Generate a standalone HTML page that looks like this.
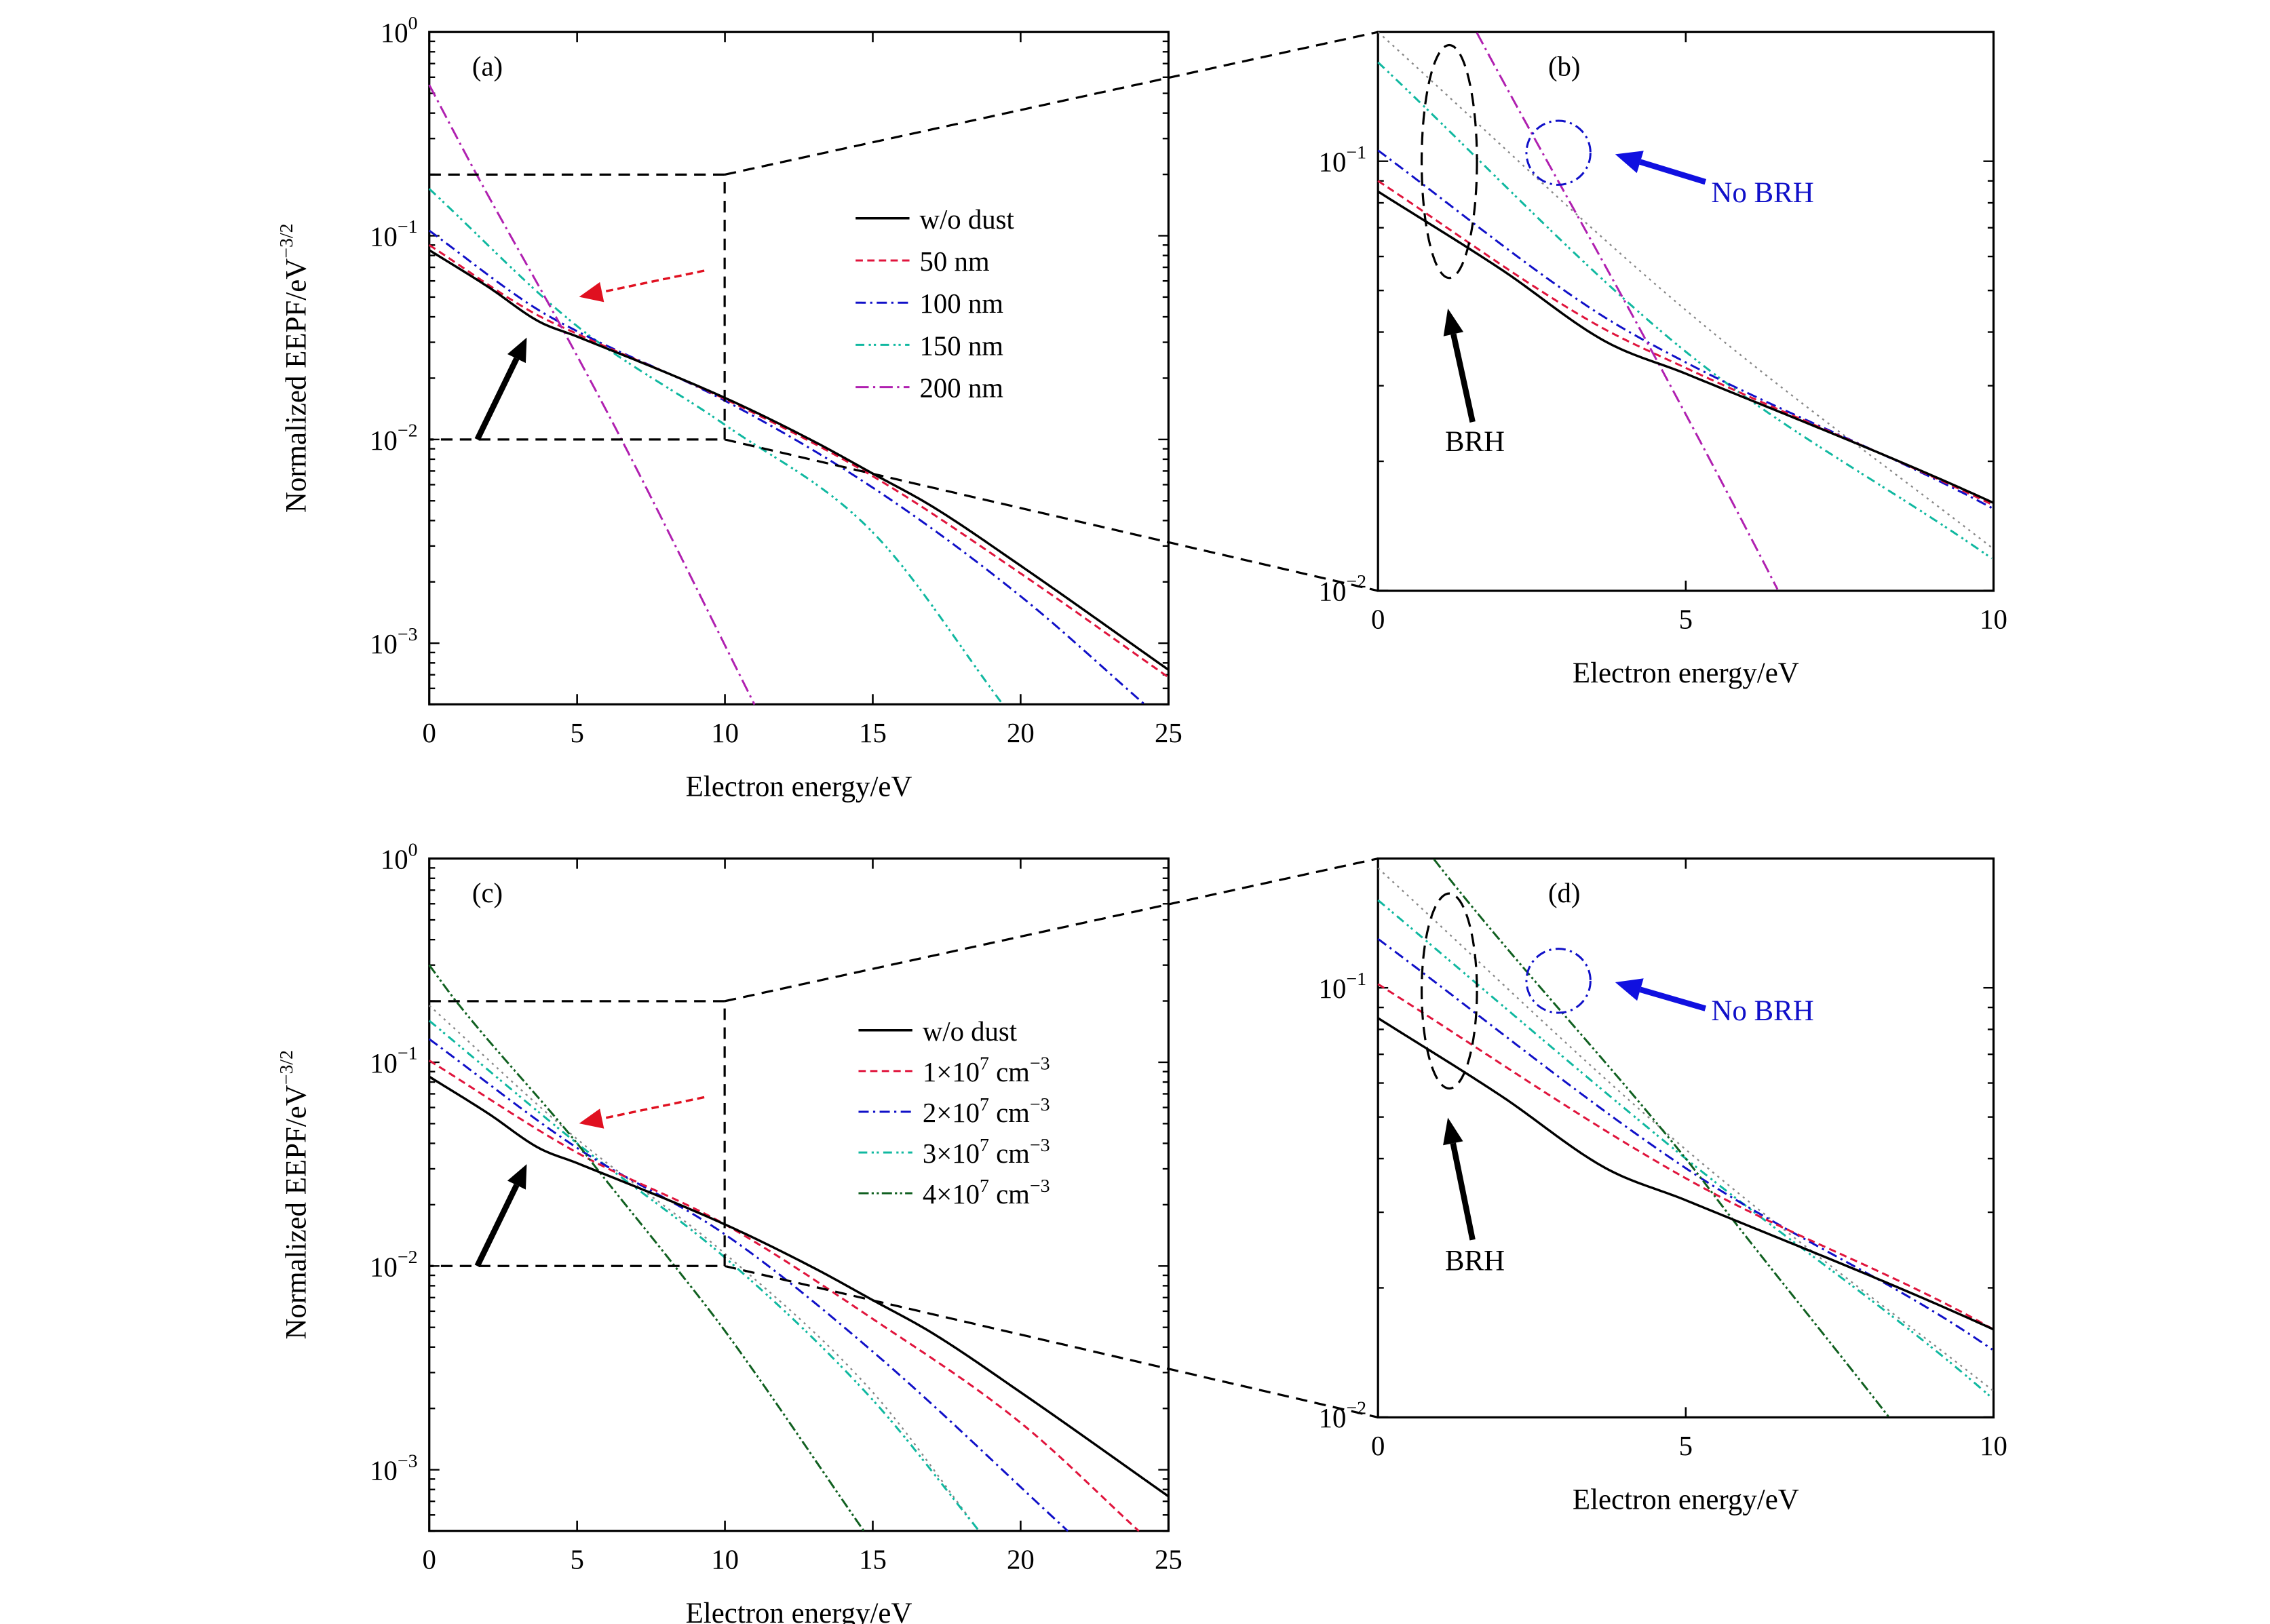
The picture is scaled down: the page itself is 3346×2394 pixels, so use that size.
<!DOCTYPE html>
<html><head><meta charset="utf-8"><style>
html,body{margin:0;padding:0;background:#fff}
svg{display:block}
text{font-family:"Liberation Serif",serif;fill:#000}
</style></head><body>
<svg id="s" xmlns="http://www.w3.org/2000/svg" width="3346" height="2394" viewBox="0 0 1560 1116" preserveAspectRatio="none">
</svg>
<script>
const S=document.getElementById('s');const NS='http://www.w3.org/2000/svg';
function el(t,a,txt){const e=document.createElementNS(NS,t);for(const k in a)e.setAttribute(k,a[k]);if(txt!==undefined)e.textContent=txt;S.appendChild(e);return e;}
function panel(P){
 const X=v=>P.x0+(P.x1-P.x0)*v/P.xmax;
 const Y=v=>P.yT+(P.lt-Math.log10(v))*P.dp;
 return {X,Y};
}
function interp(pts){
 const n=pts.length,x=pts.map(p=>p[0]),y=pts.map(p=>Math.log10(p[1]));
 const d=[],m=[];for(let i=0;i<n-1;i++)d.push((y[i+1]-y[i])/(x[i+1]-x[i]));
 m[0]=d[0];m[n-1]=d[n-2];for(let i=1;i<n-1;i++){m[i]=(d[i-1]*d[i]<=0)?0:(d[i-1]+d[i])/2;}
 return function(t){let j=0;while(j<n-2&&t>x[j+1])j++;const h=x[j+1]-x[j],s=(t-x[j])/h;
  const h00=2*s*s*s-3*s*s+1,h10=s*s*s-2*s*s+s,h01=-2*s*s*s+3*s*s,h11=s*s*s-s*s;
  return h00*y[j]+h10*h*m[j]+h01*y[j+1]+h11*h*m[j+1];};
}
function curve(pn,P,pts,style){
 let d='';const N=500;const xa=pts[0][0],xb=pts[pts.length-1][0];const f=interp(pts);
 let pen=false;
 for(let i=0;i<=N;i++){const x=xa+(xb-xa)*i/N;if(x>P.xmax+1e-9)break;
  const px=pn.X(x),py=pn.Y(Math.pow(10,f(x)));
  if(py<P.yT-0.5||py>P.yB+0.5){pen=false;continue;} d+=(pen?'L':'M')+px.toFixed(2)+' '+py.toFixed(2);pen=true;}
 el('path',Object.assign({d:d,fill:'none','stroke-width':1.4},style));
}
const ST={
 solid:{stroke:'#000','stroke-width':1.6},
 red:{stroke:'#e0143c','stroke-dasharray':'5 3'},
 blue:{stroke:'#1010c8','stroke-dasharray':'7 3 1.5 3'},
 cyan:{stroke:'#10b8a0','stroke-dasharray':'6 3 1.5 2 1.5 3'},
 mag:{stroke:'#b020b0','stroke-dasharray':'9 3 1.5 3'},
 grn:{stroke:'#106020','stroke-dasharray':'7 2 1.5 2 1.5 2'},
 grey:{stroke:'#888','stroke-dasharray':'1.5 3','stroke-width':1.1}
};
const SOL=[[0,0.085],[2,0.056],[3.7,0.038],[5,0.032],[10,0.016],[13,0.0098],[15,0.0068],[17,0.0047],[20,0.0024],[25,0.00074]];
function axes(P,xt,ylabs,title,tx){
 el('rect',{x:P.x0,y:P.yT,width:P.x1-P.x0,height:P.yB-P.yT,fill:'none',stroke:'#000','stroke-width':1.5});
 const pn=panel(P);
 xt.forEach(v=>{const x=pn.X(v);el('line',{x1:x,x2:x,y1:P.yB,y2:P.yB-7,stroke:'#000','stroke-width':1.2});el('line',{x1:x,x2:x,y1:P.yT,y2:P.yT+7,stroke:'#000','stroke-width':1.2});
  el('text',{x:x,y:P.yB+26,'text-anchor':'middle','font-size':19},String(v));});
 for(let e=-4;e<=0;e++)for(let m=1;m<10;m++){const v=m*Math.pow(10,e);const y=pn.Y(v);if(y<P.yT-0.5||y>P.yB+0.5)continue;const L=m==1?7:4;
  el('line',{x1:P.x0,x2:P.x0+L,y1:y,y2:y,stroke:'#000','stroke-width':1.1});el('line',{x1:P.x1,x2:P.x1-L,y1:y,y2:y,stroke:'#000','stroke-width':1.1});}
 ylabs.forEach(e=>{const y=pn.Y(Math.pow(10,e));const t=el('text',{x:P.x0-8,y:y+7,'text-anchor':'end','font-size':19});
  t.innerHTML='10<tspan dy="-9" font-size="13">'+(e==0?'0':'−'+(-e))+'</tspan>';});
 el('text',{x:(P.x0+P.x1)/2,y:P.yB+63,'text-anchor':'middle','font-size':20},'Electron energy/eV');
 el('text',{x:tx,y:P.yT+30,'font-size':19,'text-anchor':'middle'},title);
 return pn;
}
function ylab(cy){const t=el('text',{x:0,y:0,'text-anchor':'middle','font-size':20,transform:'translate(210,'+cy+') rotate(-90)'});
 t.innerHTML='Normalized EEPF/eV<tspan dy="-9" font-size="13">−3/2</tspan>';}
function arrow(x1,y1,x2,y2,col,w,dash,hl,hw){const a=Math.atan2(y2-y1,x2-x1);const bx=x2-hl*Math.cos(a),by=y2-hl*Math.sin(a);
 const o={x1:x1,y1:y1,x2:bx,y2:by,stroke:col,'stroke-width':w};if(dash)o['stroke-dasharray']=dash;el('line',o);
 const px=-Math.sin(a)*hw,py=Math.cos(a)*hw;el('polygon',{points:`${x2},${y2} ${bx+px},${by+py} ${bx-px},${by-py}`,fill:col});}
function legend(x,y0,dy,items){items.forEach((it,i)=>{const y=y0+i*dy;el('line',Object.assign({x1:x,x2:x+37,y1:y,y2:y,'stroke-width':1.4},it[0]));
 const t=el('text',{x:x+44,y:y+7,'font-size':19});t.innerHTML=it[1];});}

const A150=[[0,0.17],[5,0.036],[10,0.0118],[15,0.0035],[19.4,0.0005]];
const A100=[[0,0.106],[3.5,0.045],[5,0.034],[10,0.0155],[15,0.0058],[20,0.0017],[24.2,0.0005]];
const A50=[[0,0.09],[3.5,0.042],[5,0.033],[10,0.0158],[15,0.0066],[20,0.0022],[25,0.00068]];
const A200=[[0,0.55],[1.6,0.2],[4.5,0.035],[6.5,0.01],[11,0.0005]];
// (a)
const Pa={x0:295,x1:803,xmax:25,yT:22,yB:484,lt:0,dp:140};
const pa=axes(Pa,[0,5,10,15,20,25],[0,-1,-2,-3],'(a)',335);
curve(pa,Pa,A150,ST.cyan);curve(pa,Pa,A100,ST.blue);curve(pa,Pa,A50,ST.red);curve(pa,Pa,A200,ST.mag);curve(pa,Pa,SOL,ST.solid);
// (b)
const Pb={x0:947,x1:1370,xmax:10,yT:22,yB:406,lt:Math.log10(0.2),dp:295};
const pb=axes(Pb,[0,5,10],[-1,-2],'(b)',1075);
curve(pb,Pb,[[0,0.2],[5,0.045],[10,0.0125]],ST.grey);
curve(pb,Pb,A150,ST.cyan);curve(pb,Pb,A100,ST.blue);curve(pb,Pb,A50,ST.red);curve(pb,Pb,A200,ST.mag);curve(pb,Pb,SOL,ST.solid);
// (c)
const Pc={x0:295,x1:803,xmax:25,yT:590,yB:1052,lt:0,dp:140};
const pc=axes(Pc,[0,5,10,15,20,25],[0,-1,-2,-3],'(c)',335);
const C3=[[0,0.16],[5,0.04],[10,0.011],[15,0.0022],[18.6,0.0005]];
const C2=[[0,0.13],[5,0.038],[10,0.0143],[15,0.0038],[21.6,0.0005]];
const C1=[[0,0.102],[5,0.036],[10,0.016],[15,0.0055],[20,0.0017],[24,0.0005]];
const C4=[[0,0.3],[0.9,0.2],[5,0.04],[5.75,0.029],[8.3,0.01],[10,0.0048],[14.7,0.0005]];
curve(pc,Pc,[[0,0.19],[5,0.042],[10,0.0115],[15,0.0024],[18.6,0.0005]],ST.grey);
curve(pc,Pc,C3,ST.cyan);curve(pc,Pc,C2,ST.blue);curve(pc,Pc,C1,ST.red);curve(pc,Pc,C4,ST.grn);curve(pc,Pc,SOL,ST.solid);
// (d)
const Pd={x0:947,x1:1370,xmax:10,yT:590,yB:974,lt:Math.log10(0.2),dp:295};
const pd=axes(Pd,[0,5,10],[-1,-2],'(d)',1075);
curve(pd,Pd,[[0,0.19],[5,0.042],[10,0.0115]],ST.grey);
curve(pd,Pd,C3,ST.cyan);curve(pd,Pd,C2,ST.blue);curve(pd,Pd,C1,ST.red);curve(pd,Pd,C4,ST.grn);curve(pd,Pd,SOL,ST.solid);

ylab(253);ylab(821);
const dz={fill:'none',stroke:'#000','stroke-width':1.5,'stroke-dasharray':'8 5'};
el('path',Object.assign({d:'M295 120 L498 120 L498 302 L295 302 M498 120 L947 22 M498 302 L947 406'},dz));
el('path',Object.assign({d:'M295 688 L498 688 L498 870 L295 870 M498 688 L947 590 M498 870 L947 974'},dz));
legend(588,150,29,[[ST.solid,'w/o dust'],[ST.red,'50 nm'],[ST.blue,'100 nm'],[ST.cyan,'150 nm'],[ST.mag,'200 nm']]);
const cm=n=>n+'×10<tspan dy="-8" font-size="13">7</tspan><tspan dy="8"> cm</tspan><tspan dy="-8" font-size="13">−3</tspan>';
legend(590,708,28,[[ST.solid,'w/o dust'],[ST.red,cm(1)],[ST.blue,cm(2)],[ST.cyan,cm(3)],[ST.grn,cm(4)]]);
arrow(328,302,362,232,'#000',4,null,16,7);arrow(484,186,398,204,'#e01020',1.6,'5 3',16,7);
arrow(328,870,362,800,'#000',4,null,16,7);arrow(484,754,398,772,'#e01020',1.6,'5 3',16,7);
[[111,80,105,125,139,212,290,310],[681,67,674,693,701,768,852,873]].forEach(a=>{
 el('ellipse',{cx:996,cy:a[0],rx:19,ry:a[1],fill:'none',stroke:'#000','stroke-width':1.5,'stroke-dasharray':'9 5'});
 el('ellipse',{cx:1071,cy:a[2],rx:22,ry:22,fill:'none',stroke:'#1010c8','stroke-width':1.4,'stroke-dasharray':'7 3 1.5 3'});
 arrow(1172,a[3],1110,a[2]+1,'#1010e0',4,null,18,8);
 el('text',{x:1176,y:a[4],'font-size':20,style:'fill:#1010c8'},'No BRH');
 arrow(1012,a[6],995,a[5],'#000',4,null,18,7);
 el('text',{x:993,y:a[7],'font-size':20},'BRH');
});
</script>
</body></html>
